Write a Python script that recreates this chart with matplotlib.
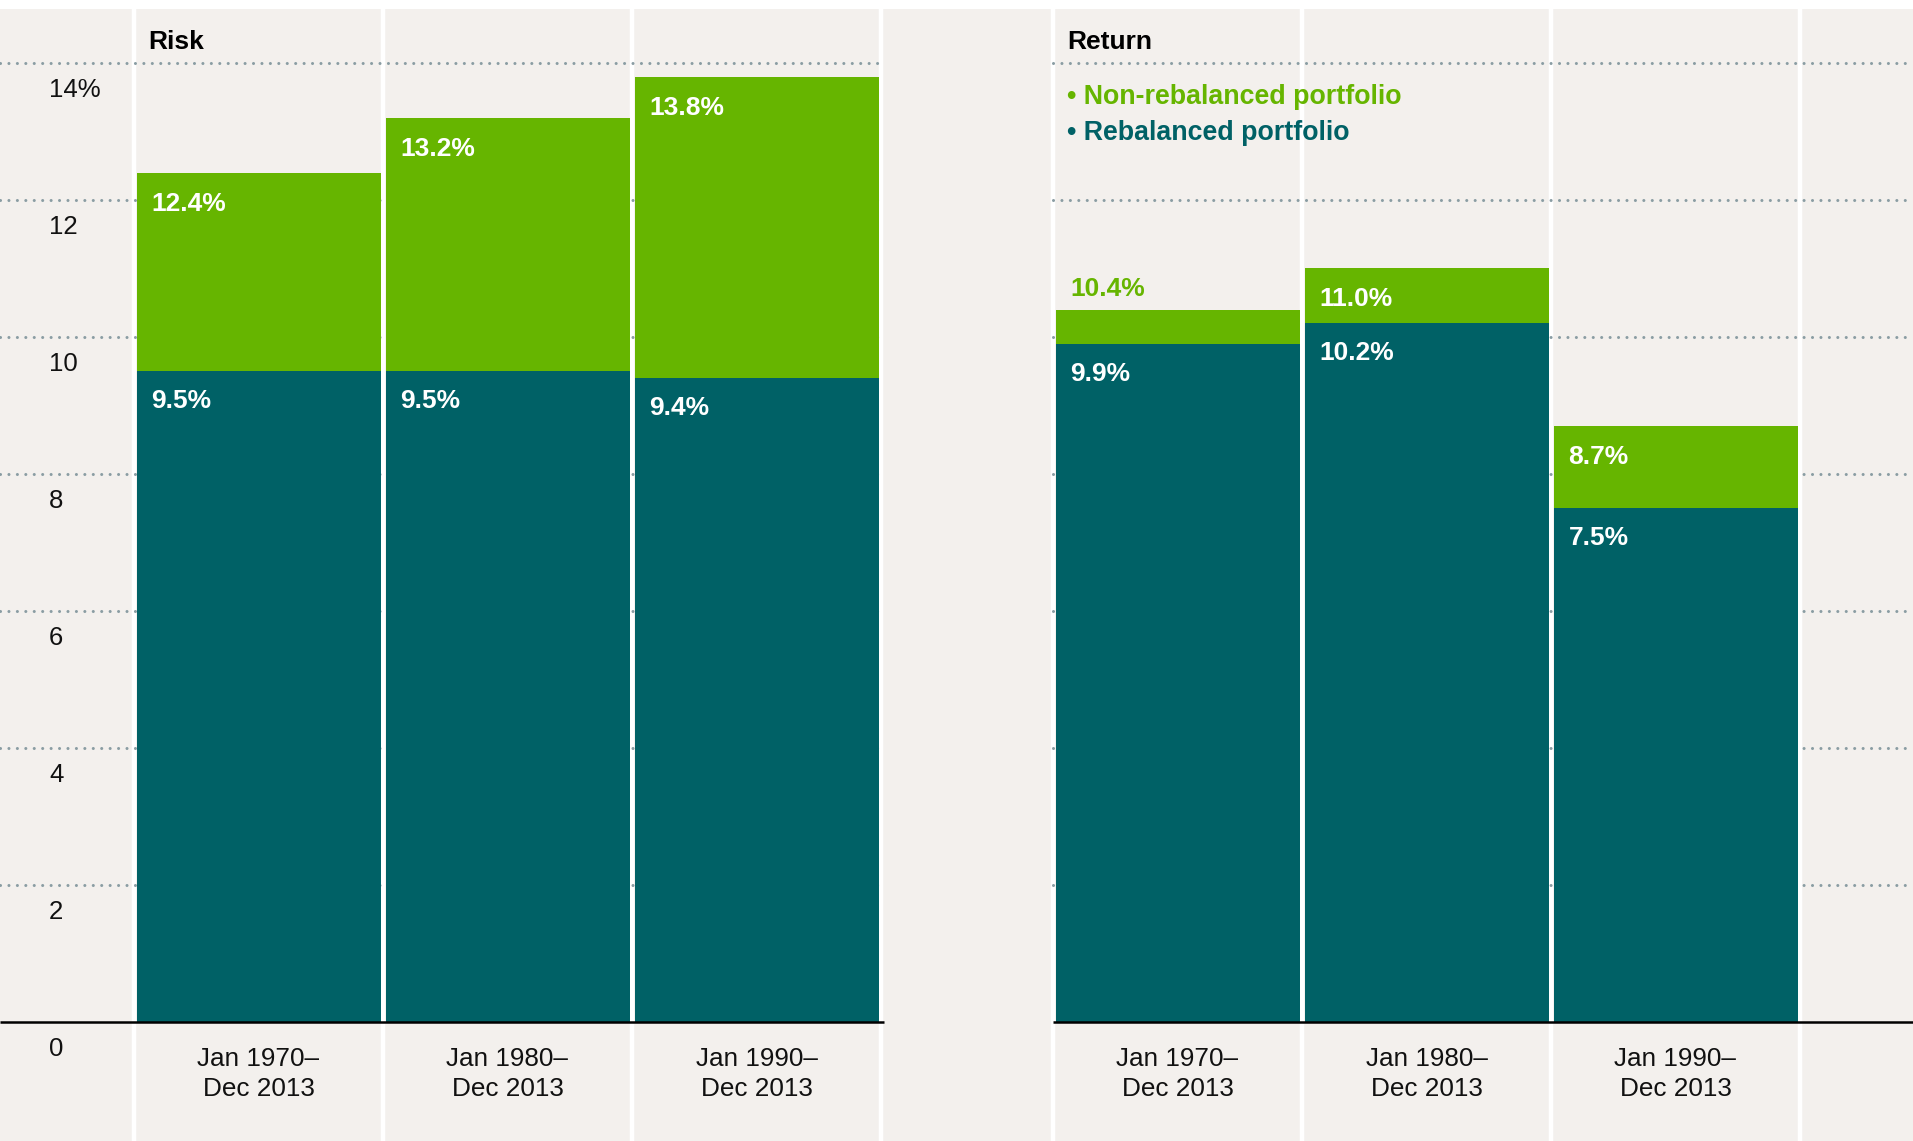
import matplotlib
matplotlib.use("Agg")
import matplotlib.pyplot as plt

plt.rcParams["font.family"] = ["Liberation Sans", "DejaVu Sans"]

periods = ["Jan 1970–\nDec 2013", "Jan 1980–\nDec 2013", "Jan 1990–\nDec 2013"]
risk_non_rebalanced = [12.4, 13.2, 13.8]
risk_rebalanced = [9.5, 9.5, 9.4]
return_non_rebalanced = [10.4, 11.0, 8.7]
return_rebalanced = [9.9, 10.2, 7.5]
y_ticks = [0, 2, 4, 6, 8, 10, 12, 14]
y_tick_labels = ["0", "2", "4", "6", "8", "10", "12", "14%"]
panel_titles = ["Risk", "Return"]
series_names = ["Non-rebalanced portfolio", "Rebalanced portfolio"]

GREEN = "#66B500"
TEAL = "#006166"
BG = "#F3F0ED"
GRID = "#8A9DA3"

# layout in pixels of the 1913x1141 canvas
W, H = 1913, 1141
TOP = 9        # white strip above the panel
BASE = 1022    # pixel row of y = 0
PX = 68.5      # pixels per percentage point
COL = 249      # column width
PANEL_X0 = [134, 1053]          # left edge of first bar column per panel
GRID_SPAN = [(0, 881), (1053, W)]
BASE_SPAN = [(0, 884), (1053, W)]


def px(d):
    """pixel distance -> data units on the y axis"""
    return d / PX


def main():
    fig = plt.figure(figsize=(W / 100, H / 100), dpi=100, facecolor="white")
    ax = fig.add_axes([0, 0, 1, (H - TOP) / H])
    ax.set_facecolor(BG)
    ax.set_xlim(0, W)
    ax.set_ylim(-px(H - BASE), px(BASE - TOP))
    ax.set_xticks([])
    ax.set_yticks([])
    for s in ax.spines.values():
        s.set_visible(False)

    # white column separators
    seps = [x0 + COL * k for x0 in PANEL_X0 for k in range(4)]
    for x in seps:
        ax.axvline(x, color="white", lw=3.2, zorder=1)

    # dotted gridlines
    for v in y_ticks[1:]:
        for a, b in GRID_SPAN:
            ax.plot([a, b], [v, v], color=GRID, lw=2.2, dashes=[0.01, 2.75],
                    dash_capstyle="round", zorder=2)

    # y tick labels (sit below their gridline)
    for v, lab in zip(y_ticks, y_tick_labels):
        ax.text(49, v - px(27), lab, ha="left", va="center", fontsize=18.5,
                color="#111111")

    panels = [(risk_non_rebalanced, risk_rebalanced),
              (return_non_rebalanced, return_rebalanced)]
    bw = COL - 5
    for p, (non, reb) in enumerate(panels):
        centers = [PANEL_X0[p] + COL * (i + 0.5) for i in range(len(periods))]
        ax.bar(centers, non, bw, color=GREEN, zorder=3)
        ax.bar(centers, reb, bw, color=TEAL, zorder=4)

        for i, c in enumerate(centers):
            xl = c - bw / 2 + 15
            if non[i] - reb[i] < 0.7:
                ax.text(xl, non[i] + px(21), f"{non[i]:.1f}%", ha="left",
                        va="center", fontsize=19, fontweight="bold",
                        color=GREEN, zorder=5)
            else:
                ax.text(xl, non[i] - px(31), f"{non[i]:.1f}%", ha="left",
                        va="center", fontsize=19, fontweight="bold",
                        color="white", zorder=5)
            ax.text(xl, reb[i] - px(30), f"{reb[i]:.1f}%", ha="left",
                    va="center", fontsize=19, fontweight="bold",
                    color="white", zorder=5)
            ax.text(c, -px(52), periods[i], ha="center", va="center",
                    fontsize=18.8, color="#111111", linespacing=1.35)

        ax.text(PANEL_X0[p] + 14, px(BASE - 42), panel_titles[p], ha="left",
                va="center", fontsize=19, fontweight="bold", color="black")

        a, b = BASE_SPAN[p]
        ax.plot([a, b], [0, 0], color="black", lw=1.8, zorder=6,
                solid_capstyle="butt")

    # legend as coloured text
    for name, col, ypx in zip(series_names, [GREEN, TEAL], [97, 133]):
        ax.text(1067, px(BASE - ypx), "\u2022 " + name, ha="left", va="center",
                fontsize=19.3, fontweight="bold", color=col, zorder=5)

    fig.savefig("out.png", dpi=100, facecolor="white")


if __name__ == "__main__":
    main()
